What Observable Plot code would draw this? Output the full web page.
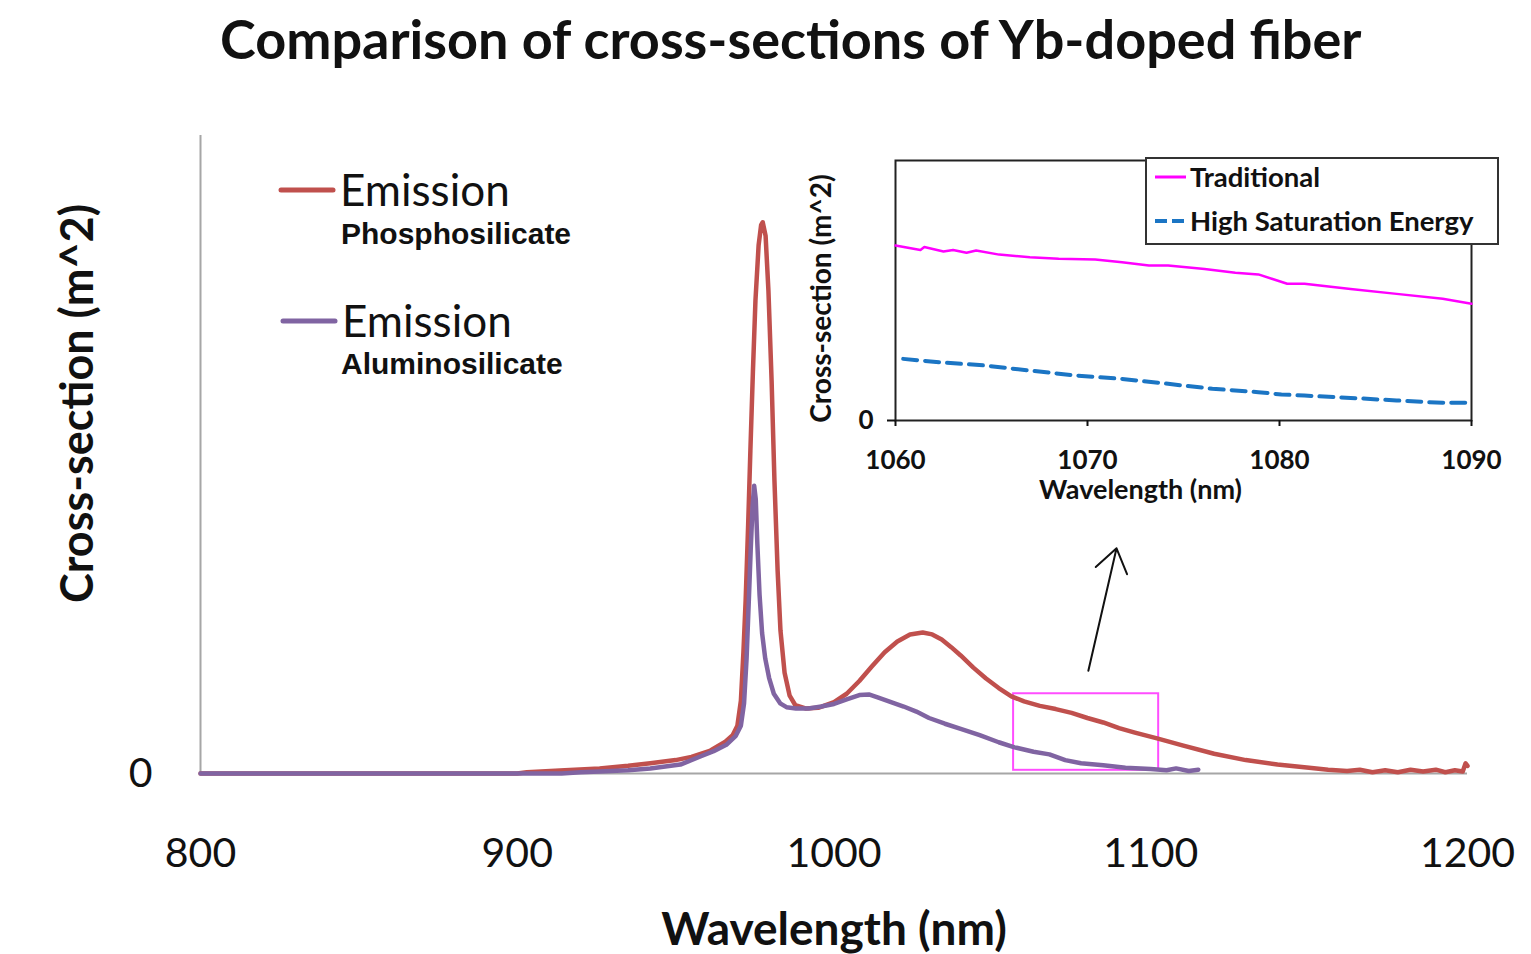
<!DOCTYPE html>
<html>
<head>
<meta charset="utf-8">
<script src="https://cdn.jsdelivr.net/npm/d3@7"></script>
<script src="https://cdn.jsdelivr.net/npm/@observablehq/plot@0.6"></script>
<style>
  html, body { margin: 0; padding: 0; background: #fff; }
  #page { position: relative; width: 1531px; height: 954px; overflow: hidden; font-family: Lato, sans-serif; color: #111; }
  .abs { position: absolute; white-space: nowrap; line-height: 1; }
  #page svg { overflow: visible; }
</style>
</head>
<body>
<div id="page"></div>
<script>
// ---- Main panel: Yb emission cross-section (relative units) vs wavelength (nm)
const phosWavelength = [800, 850, 900, 903, 915, 926, 935, 942, 950, 955, 961, 965.7, 968, 969.5, 970.6, 971.4,
  972.1, 972.9, 973.6, 974.4, 975.2, 976.2, 977.0, 977.5, 978.4, 979.3, 980.3, 981.2, 982.2, 983.1, 984.4, 986.0,
  987.8, 991, 995, 1000, 1004, 1008, 1012, 1016, 1020, 1024, 1028, 1031, 1034, 1037, 1040, 1044, 1048, 1052, 1056,
  1060, 1065, 1070, 1075, 1080, 1085, 1090, 1095, 1102, 1110, 1120, 1130, 1140, 1150, 1156, 1162, 1166, 1170, 1174,
  1178, 1182, 1186, 1190, 1193, 1196, 1198.5, 1199.4, 1200];
const phosEmission = [0, 0, 0, 0.002, 0.005, 0.008, 0.012, 0.016, 0.021, 0.026, 0.036, 0.05, 0.06, 0.075, 0.114, 0.19,
  0.271, 0.39, 0.506, 0.63, 0.741, 0.828, 0.86, 0.864, 0.843, 0.757, 0.616, 0.459, 0.318, 0.224, 0.158, 0.122,
  0.107, 0.102, 0.103, 0.112, 0.125, 0.145, 0.168, 0.19, 0.207, 0.218, 0.221, 0.218, 0.21, 0.198, 0.185, 0.166, 0.149, 0.134, 0.121,
  0.113, 0.106, 0.101, 0.095, 0.087, 0.08, 0.071, 0.064, 0.055, 0.044, 0.031, 0.021, 0.014, 0.009, 0.006, 0.004, 0.006, 0.002, 0.005,
  0.002, 0.006, 0.003, 0.006, 0.002, 0.005, 0.003, 0.016, 0.012];

const aluWavelength = [800, 850, 900, 914, 920, 926, 935, 942, 951.5, 958, 962, 966, 969, 970.6, 971.6, 972.4, 973.1,
  973.7, 974.3, 974.8, 975.3, 975.8, 976.5, 977.3, 978.3, 979.5, 981, 983, 985, 988, 992, 996, 1000, 1004, 1008,
  1011, 1014, 1018, 1022, 1026, 1030, 1035, 1040, 1046, 1052, 1057, 1063, 1068, 1073, 1078, 1085, 1092, 1100, 1105,
  1108, 1112, 1115];
const aluEmission = [0, 0, 0, 0, 0.002, 0.003, 0.005, 0.008, 0.014, 0.027, 0.035, 0.045, 0.059, 0.075, 0.11, 0.18, 0.27,
  0.35, 0.42, 0.451, 0.43, 0.36, 0.28, 0.22, 0.18, 0.15, 0.125, 0.11, 0.104, 0.102, 0.102, 0.105, 0.109, 0.116, 0.123,
  0.124, 0.119, 0.112, 0.105, 0.097, 0.087, 0.078, 0.07, 0.06, 0.049, 0.041, 0.034, 0.03, 0.021, 0.016, 0.013, 0.009, 0.007, 0.005,
  0.008, 0.004, 0.006];

const mainTicks = [800, 900, 1000, 1100, 1200];

// ---- Inset: 1060–1090 nm detail of the two fiber designs
const tradWavelength = [1060, 1061.3, 1061.5, 1062.5, 1063, 1063.7, 1064.2, 1065.4, 1067, 1068.5, 1070.4, 1071.8,
  1073.2, 1074.2, 1076.1, 1077.7, 1078.9, 1079.6, 1080.4, 1081.3, 1083.7, 1086.1, 1088.5, 1090];
const tradValue = [0.673, 0.656, 0.667, 0.65, 0.656, 0.645, 0.654, 0.638, 0.628, 0.622, 0.619, 0.609,
  0.596, 0.596, 0.583, 0.568, 0.562, 0.545, 0.526, 0.526, 0.506, 0.487, 0.468, 0.449];
const hseWavelength = [1060.4, 1062.3, 1064.6, 1067, 1069.4, 1071.8, 1074.2, 1076.5, 1078.9, 1080.1, 1081.3, 1083.7,
  1086.1, 1088.5, 1090];
const hseValue = [0.237, 0.224, 0.212, 0.192, 0.173, 0.16, 0.141, 0.122, 0.109, 0.1, 0.096, 0.087, 0.077, 0.068, 0.068];
const insetTicks = [1060, 1070, 1080, 1090];

// Window on the main spectrum that the inset enlarges, and the pointer arrow
const zoomWindow = [{x1: 1056.7, x2: 1102.5, y1: 0.005, y2: 0.125}];
const pointer = [{x1: 1080.3, y1: 0.161, x2: 1089.2, y2: 0.353}];

const mainSeries = [
  {name: "Emission", glass: "Phosphosilicate", color: "#C0504D"},
  {name: "Emission", glass: "Aluminosilicate", color: "#8064A2"}
];
const insetSeries = [
  {name: "Traditional", color: "#FF00FF", dash: null},
  {name: "High Saturation Energy", color: "#1B75C4", dash: "12 5"}
];

const rows = (xs, ys) => xs.map((x, i) => ({x, y: ys[i]}));
const page = document.getElementById("page");

function place(el, left, top) {
  el.style.left = left + "px";
  el.style.top = top + "px";
  page.appendChild(el);
  return el;
}
function label(text, left, top, css) {
  const d = document.createElement("div");
  d.className = "abs";
  d.textContent = text;
  Object.assign(d.style, css);
  return place(d, left, top);
}

// Title
label("Comparison of cross-sections of Yb-doped fiber", 220, 12,
  {fontSize: "54px", fontWeight: "bold", fontFamily: "Lato, sans-serif"});

// Main chart
const main = Plot.plot({
  width: 1531, height: 864,
  marginTop: 45, marginBottom: 181, marginLeft: 200, marginRight: 64,
  x: {domain: [800, 1200]},
  y: {domain: [0, 1]},
  style: {fontFamily: "Lato, sans-serif", background: "transparent", color: "#111"},
  marks: [
    Plot.ruleX([800], {stroke: "#A6A6A6", strokeWidth: 2}),
    Plot.ruleY([0], {stroke: "#A6A6A6", strokeWidth: 2}),
    Plot.axisX({ticks: mainTicks, tickSize: 0, tickPadding: 64, fontSize: 41, tickFormat: "d", label: null}),
    Plot.axisY({ticks: [0], tickSize: 0, tickPadding: 48, fontSize: 41, tickFormat: "d", label: null}),
    Plot.rect(zoomWindow, {x1: "x1", x2: "x2", y1: "y1", y2: "y2", fill: "none", stroke: "#FF4DFF", strokeWidth: 2}),
    Plot.line(rows(phosWavelength, phosEmission), {x: "x", y: "y", stroke: mainSeries[0].color, strokeWidth: 4.5, strokeLinejoin: "round"}),
    Plot.line(rows(aluWavelength, aluEmission), {x: "x", y: "y", stroke: mainSeries[1].color, strokeWidth: 4.5, strokeLinejoin: "round"}),
    Plot.arrow(pointer, {x1: "x1", y1: "y1", x2: "x2", y2: "y2", stroke: "#111", strokeWidth: 2, headLength: 21, headAngle: 70}),
    Plot.text(["Cross-section (m^2)"], {text: d => d, frameAnchor: "left", textAnchor: "middle", lineAnchor: "middle",
      dx: -122, dy: -51, rotate: -90, fontSize: 45, fontWeight: "bold"}),
    Plot.text(["Wavelength (nm)"], {text: d => d, frameAnchor: "bottom", textAnchor: "middle", lineAnchor: "middle",
      dy: 157, fontSize: 46, fontWeight: "bold"})
  ]
});
main.style.position = "absolute";
place(main, 0, 90);

// Main legend
mainSeries.forEach((s, i) => {
  const cy = 190 + i * 131;
  const sw = document.createElementNS("http://www.w3.org/2000/svg", "svg");
  sw.setAttribute("width", 60); sw.setAttribute("height", 10);
  sw.style.position = "absolute";
  sw.innerHTML = `<line x1="3" y1="5" x2="55" y2="5" stroke="${s.color}" stroke-width="5" stroke-linecap="round"/>`;
  place(sw, 278 + i * 2, cy - 5);
  label(s.name, 340 + i * 2, cy - 23, {fontSize: "44px", fontFamily: "Lato, sans-serif"});
  label(s.glass, 341, cy + 44 - 14.7 - i * 1, {fontSize: "30px", fontWeight: "bold", fontFamily: "'Liberation Sans', Arial, sans-serif"});
});

// Inset chart
const inset = Plot.plot({
  width: 720, height: 380,
  marginTop: 20, marginBottom: 100, marginLeft: 95, marginRight: 49,
  x: {domain: [1060, 1090]},
  y: {domain: [0, 1]},
  style: {fontFamily: "Lato, sans-serif", fontWeight: "bold", background: "transparent", color: "#111"},
  marks: [
    Plot.frame({stroke: "#222", strokeWidth: 2}),
    Plot.axisX({ticks: insetTicks, tickSize: 6, tickPadding: 24, fontSize: 26, tickFormat: "d", label: null, strokeWidth: 2}),
    Plot.axisY({ticks: [0], tickSize: 8, tickPadding: 14, fontSize: 26, tickFormat: "d", label: null, strokeWidth: 2}),
    Plot.line(rows(tradWavelength, tradValue), {x: "x", y: "y", stroke: insetSeries[0].color, strokeWidth: 2.5}),
    Plot.line(rows(hseWavelength, hseValue), {x: "x", y: "y", stroke: insetSeries[1].color, strokeWidth: 4, strokeDasharray: "14 8"}),
    Plot.text(["Cross-section (m^2)"], {text: d => d, frameAnchor: "left", textAnchor: "middle", lineAnchor: "middle",
      dx: -73, dy: 8, rotate: -90, fontSize: 28}),
    Plot.text(["Wavelength (nm)"], {text: d => d, frameAnchor: "bottom", textAnchor: "middle", lineAnchor: "middle",
      dx: -43, dy: 70, fontSize: 27})
  ]
});
inset.style.position = "absolute";
place(inset, 800, 140);

// Inset legend box
const box = document.createElement("div");
box.className = "abs";
Object.assign(box.style, {width: "350px", height: "84px", border: "2px solid #333", background: "#fff"});
place(box, 1145, 157);
insetSeries.forEach((s, i) => {
  const cy = 177 + i * 44;
  const sw = document.createElementNS("http://www.w3.org/2000/svg", "svg");
  sw.setAttribute("width", 36); sw.setAttribute("height", 8);
  sw.style.position = "absolute";
  sw.innerHTML = `<line x1="2" y1="4" x2="33" y2="4" stroke="${s.color}" stroke-width="${s.dash ? 4 : 3}"${s.dash ? ` stroke-dasharray="${s.dash}"` : ""}/>`;
  place(sw, 1153, cy - 4);
  label(s.name, 1190, cy - 14.5, {fontSize: "27.5px", fontWeight: "bold", fontFamily: "Lato, sans-serif"});
});
</script>
</body>
</html>
